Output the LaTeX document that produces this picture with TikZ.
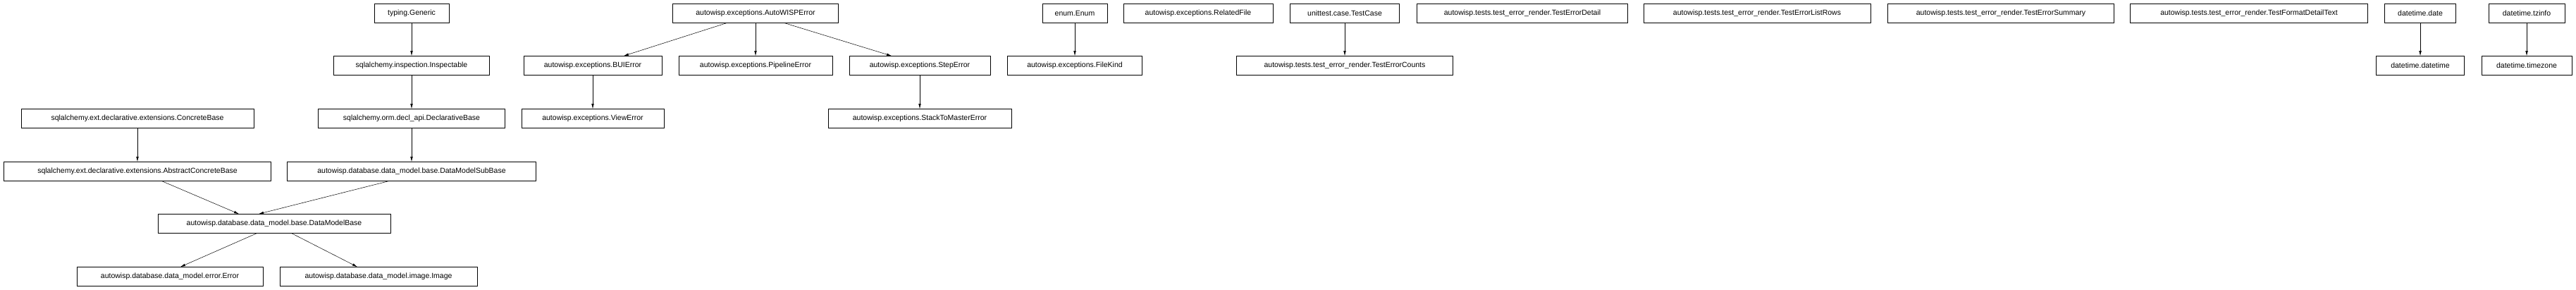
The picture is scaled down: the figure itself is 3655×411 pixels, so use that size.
\documentclass[tikz,border=0pt]{standalone}
\usepackage{fontspec}
\setmainfont{Liberation Sans}
\usetikzlibrary{arrows.meta}
\begin{document}
\begin{tikzpicture}[x=1pt,y=-1pt,
  box/.style={draw=black,line width=0.6pt,minimum height=27pt,inner sep=0pt,font=\fontsize{10.5}{12}\selectfont},
  edge/.style={draw=black,line width=0.5pt,-{Latex[length=7pt,width=3.5pt]}}]
\useasboundingbox[fill=white] (0,0) rectangle (3655,411);
\node[box,minimum width=106] (gen) at (584,18.5) {typing.Generic};
\node[box,minimum width=235] (awe) at (1072,18.5) {autowisp.exceptions.AutoWISPError};
\node[box,minimum width=92] (enum) at (1525,18.5) {enum.Enum};
\node[box,minimum width=212] (rel) at (1700,18.5) {autowisp.exceptions.RelatedFile};
\node[box,minimum width=155] (tc) at (1908,18.5) {unittest.case.TestCase};
\node[box,minimum width=299] (ted) at (2160,18.5) {autowisp.tests.test\_error\_render.TestErrorDetail};
\node[box,minimum width=322] (tel) at (2493,18.5) {autowisp.tests.test\_error\_render.TestErrorListRows};
\node[box,minimum width=321] (tes) at (2839,18.5) {autowisp.tests.test\_error\_render.TestErrorSummary};
\node[box,minimum width=337] (tfd) at (3191,18.5) {autowisp.tests.test\_error\_render.TestFormatDetailText};
\node[box,minimum width=101] (date) at (3434,18.5) {datetime.date};
\node[box,minimum width=108] (tzi) at (3585,18.5) {datetime.tzinfo};
\node[box,minimum width=221] (insp) at (584,93) {sqlalchemy.inspection.Inspectable};
\node[box,minimum width=196] (bui) at (841,93) {autowisp.exceptions.BUIError};
\node[box,minimum width=218] (pipe) at (1072,93) {autowisp.exceptions.PipelineError};
\node[box,minimum width=200] (step) at (1305,93) {autowisp.exceptions.StepError};
\node[box,minimum width=191] (fk) at (1525,93) {autowisp.exceptions.FileKind};
\node[box,minimum width=307] (tec) at (1908,93) {autowisp.tests.test\_error\_render.TestErrorCounts};
\node[box,minimum width=125] (dt) at (3434,93) {datetime.datetime};
\node[box,minimum width=128] (tz) at (3585,93) {datetime.timezone};
\node[box,minimum width=330] (cb) at (195,168) {sqlalchemy.ext.declarative.extensions.ConcreteBase};
\node[box,minimum width=265] (db) at (584,168) {sqlalchemy.orm.decl\_api.DeclarativeBase};
\node[box,minimum width=202] (ve) at (841,168) {autowisp.exceptions.ViewError};
\node[box,minimum width=260] (stm) at (1305,168) {autowisp.exceptions.StackToMasterError};
\node[box,minimum width=379] (acb) at (195,243) {sqlalchemy.ext.declarative.extensions.AbstractConcreteBase};
\node[box,minimum width=353] (dmsb) at (584,243) {autowisp.database.data\_model.base.DataModelSubBase};
\node[box,minimum width=330] (dmb) at (389,317) {autowisp.database.data\_model.base.DataModelBase};
\node[box,minimum width=264] (err) at (241,392) {autowisp.database.data\_model.error.Error};
\node[box,minimum width=280] (img) at (537,392) {autowisp.database.data\_model.image.Image};
\draw[edge] (gen) -- (insp);
\draw[edge] (insp) -- (db);
\draw[edge] (db) -- (dmsb);
\draw[edge] (cb) -- (acb);
\draw[edge] ([xshift=35pt]acb.south) -- ([xshift=-50pt]dmb.north);
\draw[edge] ([xshift=-33pt]dmsb.south) -- ([xshift=-22pt]dmb.north);
\draw[edge] ([xshift=-25pt]dmb.south) -- ([xshift=15pt]err.north);
\draw[edge] ([xshift=25pt]dmb.south) -- ([xshift=-30pt]img.north);
\draw[edge] ([xshift=-40pt]awe.south) -- ([xshift=44pt]bui.north);
\draw[edge] (awe) -- (pipe);
\draw[edge] ([xshift=40pt]awe.south) -- ([xshift=-40pt]step.north);
\draw[edge] (bui) -- (ve);
\draw[edge] (step) -- (stm);
\draw[edge] (enum) -- (fk);
\draw[edge] (tc) -- (tec);
\draw[edge] (date) -- (dt);
\draw[edge] (tzi) -- (tz);
\end{tikzpicture}
\end{document}
